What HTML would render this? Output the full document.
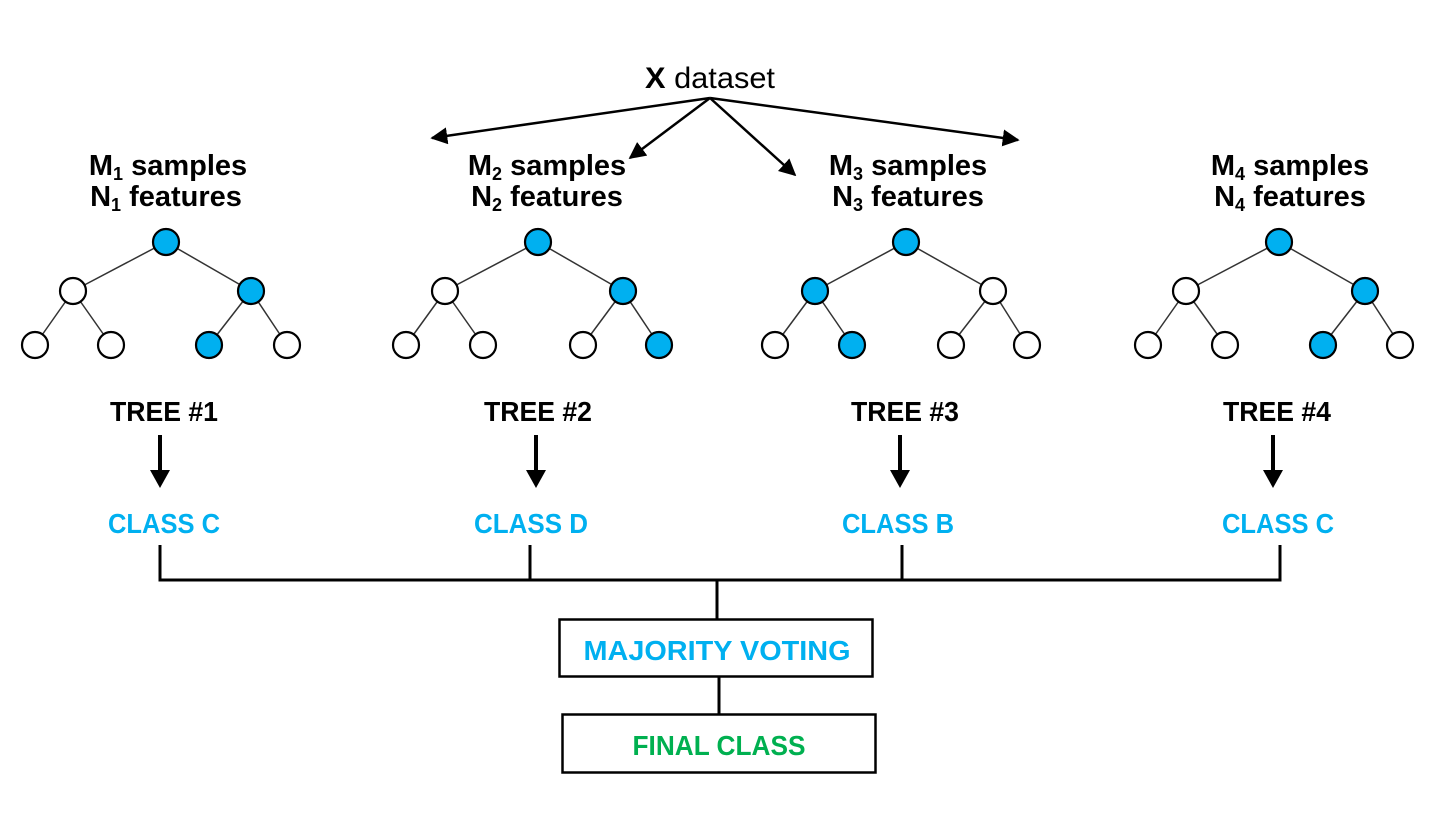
<!DOCTYPE html>
<html><head><meta charset="utf-8"><style>
html,body{margin:0;padding:0;background:#fff;}
svg{display:block;font-family:"Liberation Sans",sans-serif;}
.t{font-weight:bold;font-size:29px;fill:#000;}
.sub{font-size:18px;}
</style></head><body>
<svg width="1440" height="817" viewBox="0 0 1440 817" xmlns="http://www.w3.org/2000/svg">
<defs>
<marker id="ah2" viewBox="0 0 10 10" refX="9" refY="5" markerWidth="17" markerHeight="17" orient="auto" markerUnits="userSpaceOnUse">
<path d="M0,0 L10,5 L0,10 z" fill="#000"/></marker>
</defs>
<text x="710" y="88" font-size="30" text-anchor="middle" textLength="130" lengthAdjust="spacingAndGlyphs"><tspan font-weight="bold">X</tspan> dataset</text>
<g stroke="#000" stroke-width="2.5" fill="none">
<line x1="710" y1="98" x2="432" y2="138" marker-end="url(#ah2)"/>
<line x1="710" y1="98" x2="630" y2="158" marker-end="url(#ah2)"/>
<line x1="710" y1="98" x2="795" y2="175" marker-end="url(#ah2)"/>
<line x1="710" y1="98" x2="1018" y2="140" marker-end="url(#ah2)"/>
</g>
<g class="t" text-anchor="middle">
<text x="168" y="175">M<tspan class="sub" dy="5">1</tspan><tspan dy="-5"> samples</tspan></text>
<text x="166" y="206">N<tspan class="sub" dy="5">1</tspan><tspan dy="-5"> features</tspan></text>
<text x="547" y="175">M<tspan class="sub" dy="5">2</tspan><tspan dy="-5"> samples</tspan></text>
<text x="547" y="206">N<tspan class="sub" dy="5">2</tspan><tspan dy="-5"> features</tspan></text>
<text x="908" y="175">M<tspan class="sub" dy="5">3</tspan><tspan dy="-5"> samples</tspan></text>
<text x="908" y="206">N<tspan class="sub" dy="5">3</tspan><tspan dy="-5"> features</tspan></text>
<text x="1290" y="175">M<tspan class="sub" dy="5">4</tspan><tspan dy="-5"> samples</tspan></text>
<text x="1290" y="206">N<tspan class="sub" dy="5">4</tspan><tspan dy="-5"> features</tspan></text>
</g>
<g stroke="#333" stroke-width="1.5">
<line x1="166" y1="242" x2="73" y2="291"/><line x1="166" y1="242" x2="251" y2="291"/>
<line x1="73" y1="291" x2="35" y2="345"/><line x1="73" y1="291" x2="111" y2="345"/>
<line x1="251" y1="291" x2="209" y2="345"/><line x1="251" y1="291" x2="287" y2="345"/>
<line x1="538" y1="242" x2="445" y2="291"/><line x1="538" y1="242" x2="623" y2="291"/>
<line x1="445" y1="291" x2="406" y2="345"/><line x1="445" y1="291" x2="483" y2="345"/>
<line x1="623" y1="291" x2="583" y2="345"/><line x1="623" y1="291" x2="659" y2="345"/>
<line x1="906" y1="242" x2="815" y2="291"/><line x1="906" y1="242" x2="993" y2="291"/>
<line x1="815" y1="291" x2="775" y2="345"/><line x1="815" y1="291" x2="852" y2="345"/>
<line x1="993" y1="291" x2="951" y2="345"/><line x1="993" y1="291" x2="1027" y2="345"/>
<line x1="1279" y1="242" x2="1186" y2="291"/><line x1="1279" y1="242" x2="1365" y2="291"/>
<line x1="1186" y1="291" x2="1148" y2="345"/><line x1="1186" y1="291" x2="1225" y2="345"/>
<line x1="1365" y1="291" x2="1323" y2="345"/><line x1="1365" y1="291" x2="1400" y2="345"/>
</g>
<g stroke="#000" stroke-width="2.2">
<circle cx="166" cy="242" r="13" fill="#00b0f0"/><circle cx="73" cy="291" r="13" fill="#fff"/><circle cx="251" cy="291" r="13" fill="#00b0f0"/>
<circle cx="35" cy="345" r="13" fill="#fff"/><circle cx="111" cy="345" r="13" fill="#fff"/><circle cx="209" cy="345" r="13" fill="#00b0f0"/><circle cx="287" cy="345" r="13" fill="#fff"/>
<circle cx="538" cy="242" r="13" fill="#00b0f0"/><circle cx="445" cy="291" r="13" fill="#fff"/><circle cx="623" cy="291" r="13" fill="#00b0f0"/>
<circle cx="406" cy="345" r="13" fill="#fff"/><circle cx="483" cy="345" r="13" fill="#fff"/><circle cx="583" cy="345" r="13" fill="#fff"/><circle cx="659" cy="345" r="13" fill="#00b0f0"/>
<circle cx="906" cy="242" r="13" fill="#00b0f0"/><circle cx="815" cy="291" r="13" fill="#00b0f0"/><circle cx="993" cy="291" r="13" fill="#fff"/>
<circle cx="775" cy="345" r="13" fill="#fff"/><circle cx="852" cy="345" r="13" fill="#00b0f0"/><circle cx="951" cy="345" r="13" fill="#fff"/><circle cx="1027" cy="345" r="13" fill="#fff"/>
<circle cx="1279" cy="242" r="13" fill="#00b0f0"/><circle cx="1186" cy="291" r="13" fill="#fff"/><circle cx="1365" cy="291" r="13" fill="#00b0f0"/>
<circle cx="1148" cy="345" r="13" fill="#fff"/><circle cx="1225" cy="345" r="13" fill="#fff"/><circle cx="1323" cy="345" r="13" fill="#00b0f0"/><circle cx="1400" cy="345" r="13" fill="#fff"/>
</g>
<g font-weight="bold" font-size="28" text-anchor="middle">
<text x="164" y="421" textLength="108" lengthAdjust="spacingAndGlyphs">TREE #1</text>
<text x="538" y="421" textLength="108" lengthAdjust="spacingAndGlyphs">TREE #2</text>
<text x="905" y="421" textLength="108" lengthAdjust="spacingAndGlyphs">TREE #3</text>
<text x="1277" y="421" textLength="108" lengthAdjust="spacingAndGlyphs">TREE #4</text>
</g>
<g>
<line x1="160" y1="435" x2="160" y2="472" stroke="#000" stroke-width="4"/><path d="M150,470 L170,470 L160,488 z"/>
<line x1="536" y1="435" x2="536" y2="472" stroke="#000" stroke-width="4"/><path d="M526,470 L546,470 L536,488 z"/>
<line x1="900" y1="435" x2="900" y2="472" stroke="#000" stroke-width="4"/><path d="M890,470 L910,470 L900,488 z"/>
<line x1="1273" y1="435" x2="1273" y2="472" stroke="#000" stroke-width="4"/><path d="M1263,470 L1283,470 L1273,488 z"/>
</g>
<g font-weight="bold" font-size="28" fill="#00b0f0" text-anchor="middle">
<text x="164" y="533" textLength="112" lengthAdjust="spacingAndGlyphs">CLASS C</text>
<text x="531" y="533" textLength="114" lengthAdjust="spacingAndGlyphs">CLASS D</text>
<text x="898" y="533" textLength="112" lengthAdjust="spacingAndGlyphs">CLASS B</text>
<text x="1278" y="533" textLength="112" lengthAdjust="spacingAndGlyphs">CLASS C</text>
</g>
<g stroke="#000" stroke-width="3" fill="none">
<polyline points="160,545 160,580 1280,580 1280,545"/>
<line x1="530" y1="545" x2="530" y2="580"/>
<line x1="902" y1="545" x2="902" y2="580"/>
<line x1="717" y1="580" x2="717" y2="619"/>
<line x1="719" y1="677" x2="719" y2="714"/>
<rect x="559.5" y="619.5" width="313" height="57" stroke-width="2.5"/>
<rect x="562.5" y="714.5" width="313" height="58" stroke-width="2.5"/>
</g>
<text x="717" y="660" font-weight="bold" font-size="28" fill="#00b0f0" text-anchor="middle" textLength="267" lengthAdjust="spacingAndGlyphs">MAJORITY VOTING</text>
<text x="719" y="755" font-weight="bold" font-size="28" fill="#00b050" text-anchor="middle" textLength="173" lengthAdjust="spacingAndGlyphs">FINAL CLASS</text>
</svg>
</body></html>
